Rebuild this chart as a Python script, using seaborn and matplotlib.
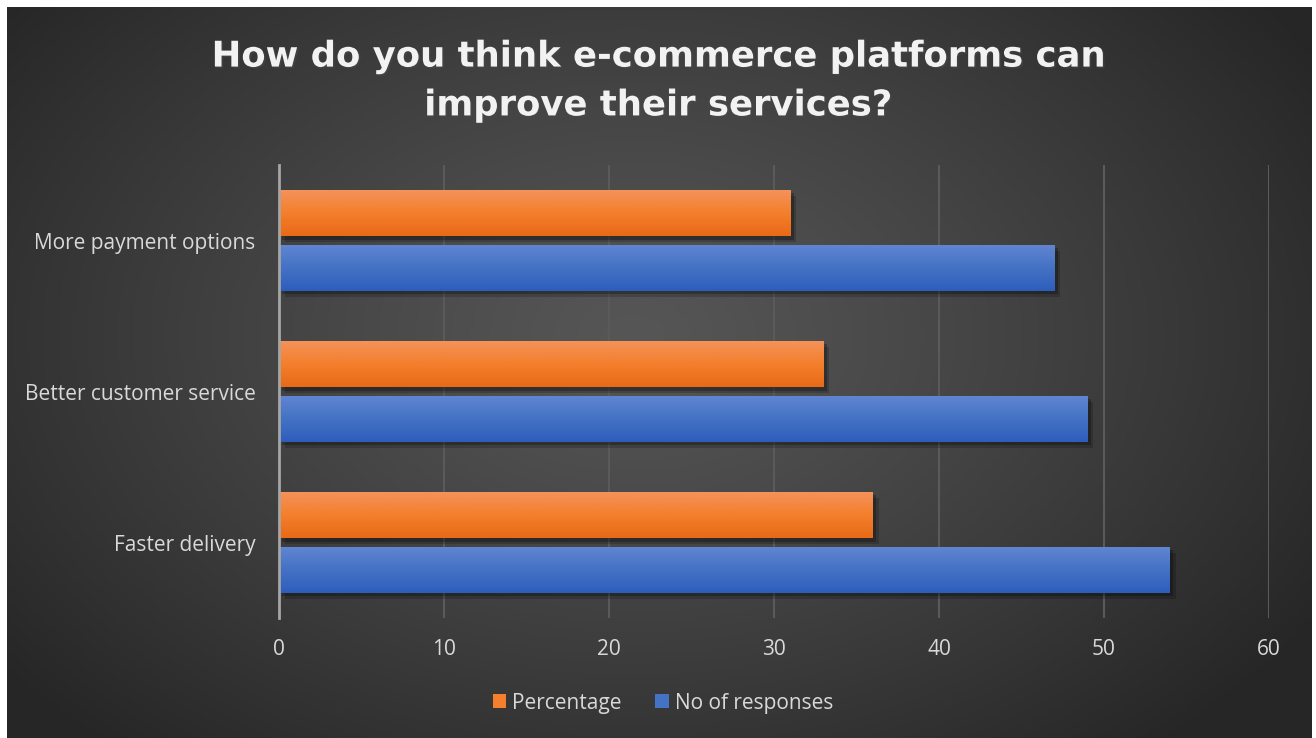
import numpy as np
import pandas as pd
import matplotlib
matplotlib.use("Agg")
import matplotlib.pyplot as plt
import matplotlib.patheffects as pe
from matplotlib.patches import Patch
from matplotlib.colors import to_rgb
import seaborn as sns

# Survey answers
categories = ["More payment options", "Better customer service", "Faster delivery"]
series_names = ["Percentage", "No of responses"]
percentage = [31, 33, 36]
responses = [47, 49, 54]
x_ticks = [0, 10, 20, 30, 40, 50, 60]
title = "How do you think e-commerce platforms can\nimprove their services?"

colors = {"Percentage": "#F47F2C", "No of responses": "#4472C4"}
grad_top = {"Percentage": "#F4935C", "No of responses": "#6186D2"}
grad_bot = {"Percentage": "#E86A17", "No of responses": "#2D5EBC"}

df = pd.DataFrame({
    "category": categories * 2,
    "series": [series_names[0]] * 3 + [series_names[1]] * 3,
    "value": percentage + responses,
})

sns.set_theme(style="white")
plt.rcParams["font.family"] = ["Open Sans", "DejaVu Sans"]

W, H = 1316, 738
fig = plt.figure(figsize=(W / 100, H / 100), dpi=100, facecolor="white")

# dark radial backdrop
bx0, by0, bw, bh = 7, 0, W - 11, H - 7
bg = fig.add_axes([bx0 / W, by0 / H, bw / W, bh / H])
gx = np.linspace(0, 1, 400)
gy = np.linspace(0, 1, 240)
XX, YY = np.meshgrid(gx, gy)
r = np.sqrt(((XX - 0.48) / 0.62) ** 2 + ((YY - 0.45) / 0.75) ** 2)
r = np.clip(r, 0, 1)
lum = (0x56 + (0x26 - 0x56) * r ** 1.2) / 255.0
img = np.dstack([lum, lum, lum])
bg.imshow(img, extent=[0, 1, 0, 1], aspect="auto", origin="upper")
bg.axis("off")

# plot area
L, R, T, B = 279, 1269, 165, 618
ax = fig.add_axes([L / W, (H - B) / H, (R - L) / W, (B - T) / H])
ax.set_facecolor("none")

sns.barplot(data=df, y="category", x="value", hue="series", order=categories,
            hue_order=series_names, palette=colors, orient="h",
            width=0.728, gap=0.162, legend=False, ax=ax, zorder=3,
            linewidth=0, edgecolor="none")

ax.set_xlim(0, 60)
ax.set_ylim(2.5, -0.5)
ax.set_xticks(x_ticks)
ax.set_xlabel("")
ax.set_ylabel("")
ax.grid(axis="x", color="#5a5a5a", lw=1.5)
ax.grid(axis="y", visible=False)
ax.set_axisbelow(True)
for s in ["top", "right", "bottom"]:
    ax.spines[s].set_visible(False)
ax.spines["left"].set_color("#a6a6a6")
ax.spines["left"].set_linewidth(2)
ax.spines["left"].set_zorder(5)
ax.tick_params(axis="both", length=0, colors="#d9d9d9", labelsize=15)
ax.tick_params(axis="y", pad=17)
ax.tick_params(axis="x", pad=15)

# gradient fill and soft drop shadow on each bar
patches = list(ax.patches)
for i, p in enumerate(patches):
    name = series_names[i // 3]
    p.set_linewidth(0)
    p.set_edgecolor("none")
    p.set_path_effects([
        pe.SimplePatchShadow(offset=(4, -4), shadow_rgbFace="black", alpha=0.18),
        pe.SimplePatchShadow(offset=(2.5, -2.5), shadow_rgbFace="black", alpha=0.25),
        pe.Normal(),
    ])
    x0, y0 = p.get_x(), p.get_y()
    w, h = p.get_width(), p.get_height()
    c1, c2 = np.array(to_rgb(grad_top[name])), np.array(to_rgb(grad_bot[name]))
    mid = np.array(to_rgb(colors[name]))
    t = np.linspace(0, 1, 64)[:, None]
    col = np.where(t < 0.5, c1 + (mid - c1) * (t / 0.5), mid + (c2 - mid) * ((t - 0.5) / 0.5))
    grad = np.repeat(col[:, None, :], 2, axis=1)
    im = ax.imshow(grad, extent=(x0, x0 + w, y0 + h, y0), origin="upper",
                   aspect="auto", zorder=4, interpolation="bilinear")
    im.set_clip_path(p)

ax.set_xlim(0, 60)
ax.set_ylim(2.5, -0.5)

# title
fig.text(658 / W, 1 - 81 / H, title, ha="center", va="center",
         multialignment="center", color="#f2f2f2", fontsize=25.5,
         fontweight="bold", family=["DejaVu Sans"], linespacing=1.55,
         path_effects=[pe.SimplePatchShadow(offset=(1.2, -1.2), alpha=0.5), pe.Normal()])

# legend
handles = [Patch(facecolor=colors[n], edgecolor="none", label=n) for n in series_names]
leg = fig.legend(handles=handles, loc="center", bbox_to_anchor=(663 / W, 1 - 703 / H),
                 ncol=2, frameon=False, fontsize=15, handlelength=0.65,
                 handleheight=0.65, handletextpad=0.3, columnspacing=1.6)
for txt in leg.get_texts():
    txt.set_color("#d9d9d9")

fig.savefig("out.png", dpi=100, facecolor="white")
